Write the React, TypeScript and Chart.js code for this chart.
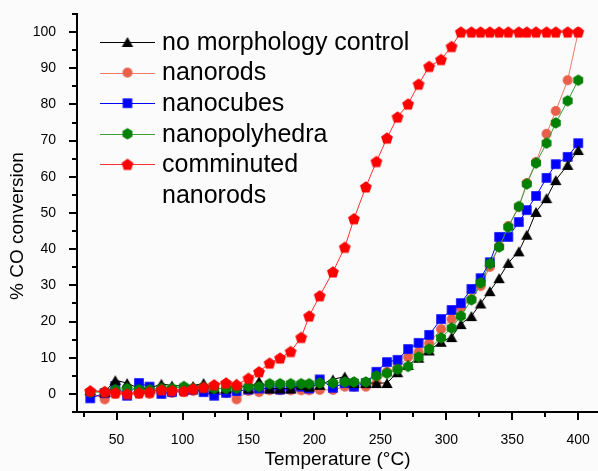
import React, { useEffect, useRef } from 'react';
import { Chart, registerables } from 'chart.js';

Chart.register(...registerables);

const FONT = '"Liberation Sans", Arial, Helvetica, sans-serif';

const temperatures = [30, 41, 49, 58, 67, 75, 84, 92, 101, 108, 116, 124, 133, 141, 150, 158, 166, 174, 182, 190, 196, 204, 214, 223, 230, 239, 247, 255, 263, 271, 279, 287, 296, 304, 311, 319, 326, 333, 340, 347, 355, 361, 368, 376, 383, 392, 400];

const noMorphologyControl = [1.0, 0.5, 3.8, 3.0, 1.5, 1.5, 2.8, 2.3, 2.2, 2.2, 3.0, 1.5, 1.5, 2.8, 1.5, 3.5, 1.5, 1.5, 1.5, 2.5, 2.0, 2.5, 4.0, 4.8, 3.0, 3.0, 3.0, 3.0, 6.0, 8.0, 10.0, 12.0, 14.4, 15.7, 19.3, 21.5, 25.0, 28.4, 32.0, 36.2, 39.4, 44.0, 50.3, 54.1, 59.1, 63.3, 67.4];

const nanorods = [0.3, -1.5, 0, -0.3, 0, 0, 0.5, 0.3, 0.5, 0.8, 1.0, 0.3, 0.3, -1.5, 0.8, 0.5, 1.0, 1.0, 1.0, 1.0, 1.0, 1.1, 1.1, 2.0, 2.0, 2.0, 3.0, 6.1, 7.2, 10.2, 11.6, 14.0, 17.9, 20.7, 23.8, 26.2, 29.8, 35.1, 40.9, 46.4, 51.7, 58.3, 64.1, 71.9, 78.2, 86.7, 100];

const nanocubes = [-1.2, 0.2, 2.2, -0.5, 3.0, 2.0, 0, 0.5, 1.0, 1.2, 0.5, -0.5, 0.3, 0.8, 1.2, 1.5, 1.5, 1.2, 1.5, 2.0, 1.5, 4.0, 1.7, 3.0, 2.0, 3.0, 6.1, 8.8, 9.4, 12.4, 14.1, 16.3, 20.7, 23.2, 25.1, 29.0, 32.0, 36.4, 43.4, 43.4, 47.5, 50.8, 54.7, 59.7, 63.5, 65.5, 69.3];

const nanopolyhedra = [0.5, 0.5, 1.2, 1.5, 1.2, 1.2, 1.5, 1.5, 2.0, 1.5, 1.8, 1.5, 1.5, 1.5, 2.0, 2.0, 2.8, 2.8, 2.8, 2.8, 2.8, 3.0, 3.0, 3.3, 3.3, 3.3, 5.0, 5.7, 6.8, 7.6, 10.2, 12.4, 15.5, 18.2, 21.5, 26.0, 30.7, 36.0, 40.6, 46.1, 51.8, 58.0, 63.8, 69.3, 74.9, 81.0, 86.7];

const comminutedNanorods = [0.8, 0.6, 0.3, 0, 0.3, 0.5, 1.1, 0.9, 0.8, 1.4, 1.8, 2.5, 3.0, 2.5, 4.3, 6.1, 8.5, 9.9, 11.7, 15.6, 21.5, 27.1, 33.7, 40.5, 48.4, 57.2, 64.2, 70.7, 76.5, 80.1, 85.6, 90.5, 92.4, 96.0, 100, 100, 100, 100, 100, 100, 100, 100, 100, 100, 100, 100, 100];

const seriesLabels = [['no morphology control'], ['nanorods'], ['nanocubes'], ['nanopolyhedra'], ['comminuted', 'nanorods']];

const xTickLabels = [50, 100, 150, 200, 250, 300, 350, 400];
const yTickLabels = [0, 10, 20, 30, 40, 50, 60, 70, 80, 90, 100];

function makeMarker(kind: string, color: string): HTMLCanvasElement {
  const s = 18;
  const c = document.createElement('canvas');
  c.width = s;
  c.height = s;
  const ctx = c.getContext('2d') as CanvasRenderingContext2D;
  const cx = s / 2;
  const cy = s / 2;
  ctx.fillStyle = color;
  ctx.beginPath();
  const poly = (n: number, r: number, dy: number) => {
    for (let i = 0; i < n; i++) {
      const a = (i * 2 * Math.PI) / n;
      const x = cx + r * Math.sin(a);
      const y = cy + dy - r * Math.cos(a);
      if (i === 0) ctx.moveTo(x, y);
      else ctx.lineTo(x, y);
    }
    ctx.closePath();
  };
  if (kind === 'triangle') poly(3, 6.6, 1.6);
  else if (kind === 'circle') ctx.arc(cx, cy, 5.0, 0, Math.PI * 2);
  else if (kind === 'square') ctx.rect(cx - 4.8, cy - 4.8, 9.6, 9.6);
  else if (kind === 'hexagon') poly(6, 5.7, 0);
  else if (kind === 'pentagon') poly(5, 6.2, 0.5);
  ctx.fill();
  return c;
}

export default function App() {
  const canvasRef = useRef<HTMLCanvasElement | null>(null);

  useEffect(() => {
    const canvas = canvasRef.current;
    if (!canvas) return;

    const styles = [
      { values: noMorphologyControl, marker: makeMarker('triangle', '#000000'), line: '#000000', order: 2 },
      { values: nanorods, marker: makeMarker('circle', '#E8604A'), line: '#F07A6A', order: 4 },
      { values: nanocubes, marker: makeMarker('square', '#0000FF'), line: '#0000FF', order: 3 },
      { values: nanopolyhedra, marker: makeMarker('hexagon', '#008000'), line: '#3AA03A', order: 1 },
      { values: comminutedNanorods, marker: makeMarker('pentagon', '#FF0000'), line: '#FF3030', order: 0 },
    ];

    const datasets = styles.map((st, i) => ({
      label: seriesLabels[i].join(' '),
      data: temperatures.map((t, j) => ({ x: t, y: st.values[j] })),
      borderColor: st.line,
      backgroundColor: st.line,
      borderWidth: 1,
      pointStyle: st.marker as any,
      pointRadius: 5,
      pointHoverRadius: 5,
      tension: 0,
      order: st.order,
    }));

    const bgPlugin = {
      id: 'bg',
      beforeDraw(chart: any) {
        const ctx = chart.ctx;
        ctx.save();
        ctx.fillStyle = '#fbfbfb';
        ctx.fillRect(0, 0, chart.width, chart.height);
        ctx.restore();
      },
    };

    const ticksPlugin = {
      id: 'ticksMarks',
      afterDraw(chart: any) {
        const ctx = chart.ctx;
        const xs = chart.scales.x;
        const ys = chart.scales.y;
        const area = chart.chartArea;
        ctx.save();
        ctx.strokeStyle = '#000';
        ctx.lineWidth = 2;
        ctx.beginPath();
        for (let v = 25; v <= 400; v += 25) {
          const px = Math.round(xs.getPixelForValue(v));
          const len = v % 50 === 0 ? 8 : 5;
          ctx.moveTo(px, area.bottom);
          ctx.lineTo(px, area.bottom + len);
        }
        for (let v = -5; v <= 105; v += 5) {
          const py = Math.round(ys.getPixelForValue(v));
          const len = v % 10 === 0 ? 8 : 5;
          ctx.moveTo(area.left, py);
          ctx.lineTo(area.left - len, py);
        }
        ctx.stroke();

        // y axis title
        ctx.fillStyle = '#000';
        ctx.font = `19px ${FONT}`;
        ctx.textAlign = 'center';
        ctx.textBaseline = 'middle';
        ctx.translate(18, 226);
        ctx.rotate(-Math.PI / 2);
        ctx.fillText('% CO conversion', 0, 0);
        ctx.restore();
      },
    };

    const legendPlugin = {
      id: 'customLegend',
      afterDraw(chart: any) {
        const ctx = chart.ctx;
        ctx.save();
        ctx.font = `25px ${FONT}`;
        ctx.textBaseline = 'middle';
        ctx.textAlign = 'left';
        let row = 0;
        styles.forEach((st, i) => {
          const y = 42 + row * 30.6;
          ctx.strokeStyle = st.line;
          ctx.lineWidth = 1;
          ctx.beginPath();
          ctx.moveTo(100, Math.round(y) + 0.5);
          ctx.lineTo(155, Math.round(y) + 0.5);
          ctx.stroke();
          ctx.drawImage(st.marker, 127.5 - st.marker.width / 2, y - st.marker.height / 2);
          ctx.fillStyle = '#000';
          seriesLabels[i].forEach((txt) => {
            const ty = 42 + row * 30.6 + 1;
            ctx.fillText(txt, 162, ty);
            row += 1;
          });
        });
        ctx.restore();
      },
    };

    const chart = new Chart(canvas, {
      type: 'line',
      data: { datasets: datasets as any },
      options: {
        animation: false,
        responsive: false,
        devicePixelRatio: 1,
        layout: { autoPadding: false, padding: { top: 14, right: 0, left: 0, bottom: 0 } },
        plugins: {
          legend: { display: false },
          tooltip: { enabled: false },
        },
        scales: {
          x: {
            type: 'linear',
            min: 20,
            max: 415,
            grid: { display: false },
            border: { display: true, color: '#000', width: 2 },
            afterBuildTicks: (scale: any) => {
              scale.ticks = xTickLabels.map((v) => ({ value: v }));
            },
            afterFit: (scale: any) => {
              scale.height = 59;
              scale.paddingLeft = 0;
              scale.paddingRight = 0;
              scale.paddingTop = 0;
              scale.paddingBottom = 0;
            },
            ticks: {
              autoSkip: false,
              maxRotation: 0,
              padding: 12,
              color: '#000',
              font: { family: FONT, size: 14 },
            },
            title: {
              display: true,
              text: 'Temperature (°C)',
              color: '#000',
              font: { family: FONT, size: 19 },
              padding: { top: 0, bottom: 0 },
            },
          },
          y: {
            type: 'linear',
            min: -5,
            max: 105,
            grid: { display: false },
            border: { display: true, color: '#000', width: 2 },
            afterBuildTicks: (scale: any) => {
              scale.ticks = yTickLabels.map((v) => ({ value: v }));
            },
            afterFit: (scale: any) => {
              scale.width = 77;
              scale.paddingLeft = 0;
              scale.paddingRight = 0;
              scale.paddingTop = 0;
              scale.paddingBottom = 0;
            },
            ticks: {
              autoSkip: false,
              padding: 13,
              color: '#000',
              font: { family: FONT, size: 14 },
            },
          },
        },
      },
      plugins: [bgPlugin, ticksPlugin, legendPlugin],
    });

    return () => {
      chart.destroy();
    };
  }, []);

  return (
    <div style={{ position: 'absolute', left: 0, top: 0, width: 598, height: 471 }}>
      <canvas ref={canvasRef} width={598} height={471} style={{ display: 'block', width: 598, height: 471 }} />
    </div>
  );
}
